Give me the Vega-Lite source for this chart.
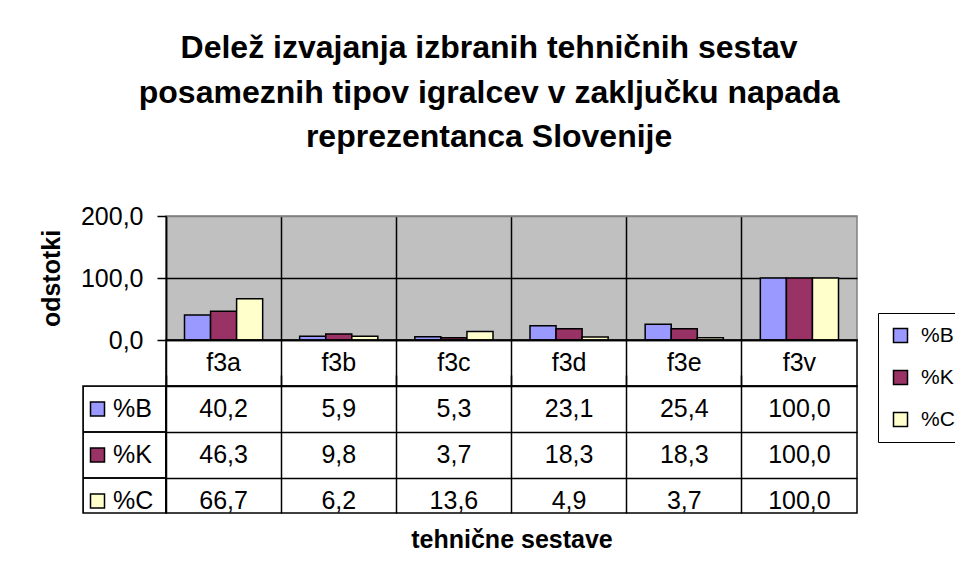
{
  "$schema": "https://vega.github.io/schema/vega-lite/v6.json",
  "padding": {"left": 38, "top": 32, "right": 0, "bottom": 0},
  "background": "white",
  "title": {
    "text": ["Delež izvajanja izbranih tehničnih sestav", "posameznih tipov igralcev v zaključku napada", "reprezentanca Slovenije"],
    "fontSize": 32, "fontWeight": "bold", "lineHeight": 44.5, "offset": 49, "anchor": "middle", "dx": -14, "color": "black"
  },
  "data": {"values": [
    {"cat": "f3a", "series": "%B", "value": 40.2},
    {"cat": "f3a", "series": "%K", "value": 46.3},
    {"cat": "f3a", "series": "%C", "value": 66.7},
    {"cat": "f3b", "series": "%B", "value": 5.9},
    {"cat": "f3b", "series": "%K", "value": 9.8},
    {"cat": "f3b", "series": "%C", "value": 6.2},
    {"cat": "f3c", "series": "%B", "value": 5.3},
    {"cat": "f3c", "series": "%K", "value": 3.7},
    {"cat": "f3c", "series": "%C", "value": 13.6},
    {"cat": "f3d", "series": "%B", "value": 23.1},
    {"cat": "f3d", "series": "%K", "value": 18.3},
    {"cat": "f3d", "series": "%C", "value": 4.9},
    {"cat": "f3e", "series": "%B", "value": 25.4},
    {"cat": "f3e", "series": "%K", "value": 18.3},
    {"cat": "f3e", "series": "%C", "value": 3.7},
    {"cat": "f3v", "series": "%B", "value": 100.0},
    {"cat": "f3v", "series": "%K", "value": 100.0},
    {"cat": "f3v", "series": "%C", "value": 100.0}
  ]},
  "columns": 2,
  "spacing": 0,
  "bounds": "flush",
  "align": "each",
  "concat": [
    {
      "width": 83, "height": 124,
      "view": {"stroke": null},
      "mark": {"type": "text"},
      "encoding": {"text": {"value": ""}}
    },
    {
      "width": 691, "height": 124,
      "view": {"fill": "#C0C0C0", "stroke": "#808080", "strokeWidth": 1.5},
      "mark": {"type": "bar", "stroke": "black", "strokeWidth": 1.5},
      "encoding": {
        "x": {"field": "cat", "type": "nominal", "sort": null,
              "scale": {"type": "band", "paddingInner": 0, "paddingOuter": 0},
              "axis": {"labels": false, "ticks": false, "title": null, "domain": true, "domainColor": "black", "domainWidth": 1.5,
                       "grid": true, "gridColor": "black", "gridWidth": 1.5, "bandPosition": 0}},
        "xOffset": {"field": "series", "type": "nominal", "sort": ["%B", "%K", "%C"],
                    "scale": {"paddingInner": 0, "paddingOuter": 0.71}},
        "y": {"field": "value", "type": "quantitative",
              "scale": {"domain": [0, 200], "nice": false},
              "axis": {"values": [0, 100, 200], "format": ".1f", "title": "odstotki",
                       "grid": true, "gridColor": {"condition": {"test": "datum.value == 200", "value": "#808080"}, "value": "black"}, "gridWidth": 1.5,
                       "domainColor": "black", "domainWidth": 1.5, "tickColor": "black", "tickWidth": 1.5, "tickSize": 9,
                       "labelPadding": 14, "labelFontSize": 25, "titleFontSize": 25, "titlePadding": 16}},
        "color": {"field": "series", "type": "nominal",
                  "scale": {"domain": ["%B", "%K", "%C"], "range": ["#9999FF", "#993366", "#FFFFCC"]},
                  "legend": {"orient": "none", "legendX": 795, "legendY": 97, "title": null}}
      }
    },
    {
      "width": 83, "height": 46,
      "view": {"stroke": null},
      "mark": {"type": "text"},
      "encoding": {"text": {"value": ""}}
    },
    {
      "width": 691, "height": 46,
      "transform": [{"filter": "datum.series == '%B'"}],
      "mark": {"type": "text", "fontSize": 25, "baseline": "middle", "align": "center", "color": "black"},
      "encoding": {
        "x": {"field": "cat", "type": "nominal", "sort": null,
              "scale": {"type": "band", "paddingInner": 0, "paddingOuter": 0},
              "axis": {"labels": false, "ticks": false, "title": null, "domain": false,
                       "grid": true, "gridColor": "black", "gridWidth": 1.5, "bandPosition": 0}},
        "text": {"field": "cat"}
      }
    },
    {
      "width": 83, "height": 127,
      "transform": [{"filter": "datum.cat == 'f3a'"}],
      "encoding": {
        "y": {"field": "series", "type": "nominal",
              "scale": {"type": "band", "domain": ["%B", "%K", "%C"], "range": [0, 138], "paddingInner": 0, "paddingOuter": 0},
              "axis": null}
      },
      "layer": [
        {
          "mark": {"type": "rect", "fill": null, "stroke": "black", "strokeWidth": 1.5, "clip": true},
          "encoding": {
            "x": {"value": 0},
            "x2": {"value": "width"}
          }
        },
        {
          "mark": {"type": "point", "shape": "square", "filled": true, "size": 196, "stroke": "black", "strokeWidth": 1.5, "opacity": 1},
          "encoding": {
            "x": {"datum": "sym", "type": "nominal", "scale": {"type": "point", "domain": ["sym", "lab"], "range": [14.5, 30], "padding": 0}, "axis": null},
            "color": {"field": "series", "type": "nominal", "legend": null}
          }
        },
        {
          "mark": {"type": "text", "fontSize": 25, "align": "left", "baseline": "middle", "color": "black"},
          "encoding": {
            "x": {"datum": "lab", "type": "nominal"},
            "text": {"field": "series"}
          }
        }
      ]
    },
    {
      "width": 691, "height": 127,
      "mark": {"type": "text", "fontSize": 25, "baseline": "middle", "align": "center", "color": "black"},
      "encoding": {
        "x": {"field": "cat", "type": "nominal", "sort": null,
              "scale": {"type": "band", "paddingInner": 0, "paddingOuter": 0},
              "axis": {"labels": false, "ticks": false, "title": "tehnične sestave", "domain": false,
                       "grid": true, "gridColor": "black", "gridWidth": 1.5, "bandPosition": 0,
                       "titleFontSize": 25, "titlePadding": 14}},
        "y": {"field": "series", "type": "nominal",
              "scale": {"type": "band", "domain": ["%B", "%K", "%C"], "range": [0, 138], "paddingInner": 0, "paddingOuter": 0},
              "axis": {"labels": false, "ticks": false, "title": null, "domain": false,
                       "grid": true, "gridColor": "black", "gridWidth": 1.5, "bandPosition": 0}},
        "text": {"field": "value", "type": "quantitative", "format": ".1f"}
      }
    }
  ],
  "config": {
    "font": "Liberation Sans",
    "locale": {"number": {"decimal": ",", "thousands": ".", "grouping": [3], "currency": ["", " €"]}},
    "view": {"stroke": "black", "strokeWidth": 1.5},
    "axis": {"labelColor": "black", "titleColor": "black", "titleFontWeight": "bold", "labelFont": "Liberation Sans", "titleFont": "Liberation Sans"},
    "legend": {
      "symbolType": "square", "symbolSize": 196, "symbolStrokeColor": "black", "symbolStrokeWidth": 1.5, "symbolOpacity": 1,
      "labelFontSize": 21, "labelColor": "black", "labelFont": "Liberation Sans", "labelOffset": 10,
      "strokeColor": "black", "padding": 12, "rowPadding": 20, "fillColor": "white"
    }
  }
}
